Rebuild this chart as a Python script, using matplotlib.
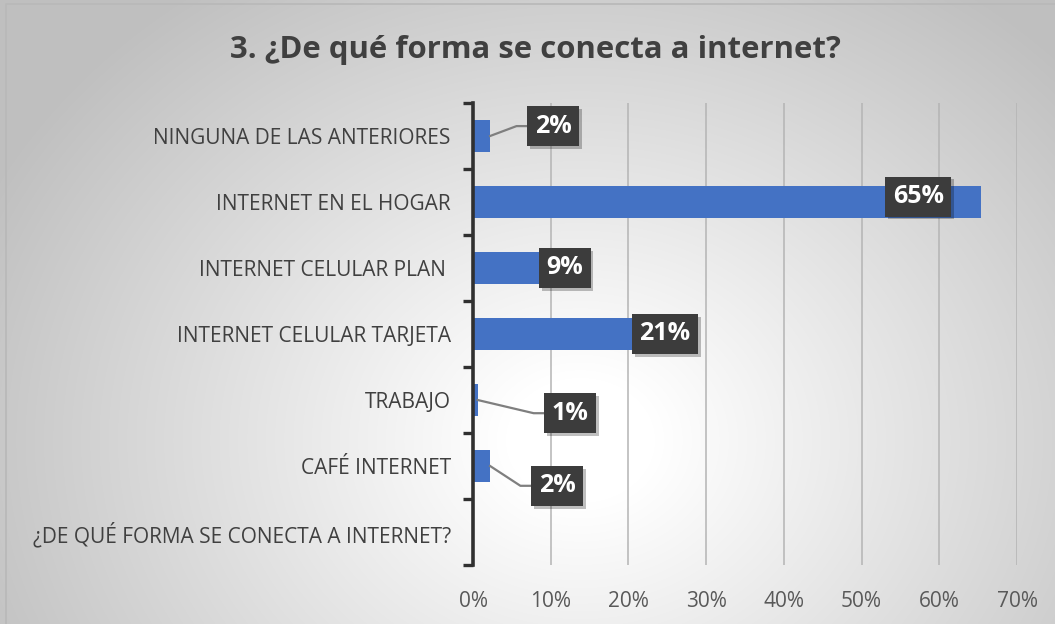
import numpy as np
import matplotlib
matplotlib.use("Agg")
import matplotlib.pyplot as plt
from matplotlib import patheffects as pe

categories = ["¿DE QUÉ FORMA SE CONECTA A INTERNET?", "CAFÉ INTERNET", "TRABAJO",
              "INTERNET CELULAR TARJETA", "INTERNET CELULAR PLAN ", "INTERNET EN EL HOGAR",
              "NINGUNA DE LAS ANTERIORES"]
values = [np.nan, 0.022, 0.006, 0.211, 0.09, 0.654, 0.022]
labels = [None, "2%", "1%", "21%", "9%", "65%", "2%"]
xticks = [0, 0.1, 0.2, 0.3, 0.4, 0.5, 0.6, 0.7]
title = "3. ¿De qué forma se conecta a internet?"

# label box offsets (data units): dx from bar end, dy from row center
label_dx = [0, 0.086, 0.119, 0.036, 0.028, -0.081, 0.081]
label_dy = [0, -0.30, -0.20, 0.0, 0.0, 0.08, 0.15]
leader = [False, True, True, False, False, False, True]

plt.rcParams['font.family'] = ['Open Sans', 'DejaVu Sans']

W, H = 1055, 624
fig = plt.figure(figsize=(W / 100, H / 100), dpi=100)

# background radial gradient
bg = fig.add_axes([0, 0, 1, 1], zorder=-10)
yy, xx = np.mgrid[0:H, 0:W]
cx, cy = 580, 440
r = np.sqrt(((xx - cx) / 620) ** 2 + ((yy - cy) / 520) ** 2)
t = np.clip((r - 0.12) / 0.95, 0, 1)
shade = 1.0 - 0.25 * t
img = np.dstack([shade, shade, shade])
bg.imshow(img, extent=[0, W, H, 0], aspect='auto', interpolation='bilinear')
bg.plot([6, 6, W], [H, 4, 4], color='#b8b8b8', lw=1.2)
bg.set_xlim(0, W)
bg.set_ylim(H, 0)
bg.axis('off')

ax = fig.add_axes([473 / W, 1 - 565 / H, (1017 - 473) / W, (565 - 103) / H])
ax.patch.set_alpha(0)
y = np.arange(len(categories))
ax.barh(y, values, height=0.48, color='#4472c4', zorder=3)

ax.set_xlim(0, 0.7)
ax.set_ylim(-0.5, len(categories) - 0.5)
ax.set_xticks(xticks)
ax.set_xticklabels([f"{int(round(v * 100))}%" for v in xticks], fontsize=15, color='#595959')
ax.tick_params(axis='x', length=0, pad=19)
ax.grid(axis='x', color='#b4b4b4', lw=1.1, zorder=0)
ax.set_yticks(y)
ax.set_yticklabels(categories, fontsize=15, color='#404040')
ax.tick_params(axis='y', which='major', length=0, pad=16)
ax.set_yticks(np.arange(-0.5, len(categories), 1), minor=True)
ax.tick_params(axis='y', which='minor', length=7, width=2.4, color='#303030', direction='out')
for s in ['top', 'right', 'bottom']:
    ax.spines[s].set_visible(False)
ax.spines['left'].set_linewidth(2.6)
ax.spines['left'].set_color('#303030')
ax.spines['left'].set_zorder(5)

for i, v in enumerate(values):
    if labels[i] is None:
        continue
    lx = v + label_dx[i]
    ly = y[i] + label_dy[i]
    if leader[i]:
        ax.plot([v, lx - 0.047, lx - 0.03], [y[i], ly, ly], color='#7f7f7f', lw=1.6, zorder=4)
    txt = ax.text(lx, ly, labels[i], ha='center', va='center', fontsize=18,
                  fontweight='bold', color='white', zorder=6,
                  bbox=dict(boxstyle='square,pad=0.3', facecolor='#3c3c3c',
                            edgecolor='none', linewidth=0))
    txt.get_bbox_patch().set_path_effects([
        pe.SimplePatchShadow(offset=(2, -2), shadow_rgbFace='#000000', alpha=0.25),
        pe.Normal()])

fig.text(535 / W, 1 - 50 / H, title, ha='center', va='center', fontsize=22.4,
         fontweight='bold', color='#404040')

fig.savefig('out.png', dpi=100)
